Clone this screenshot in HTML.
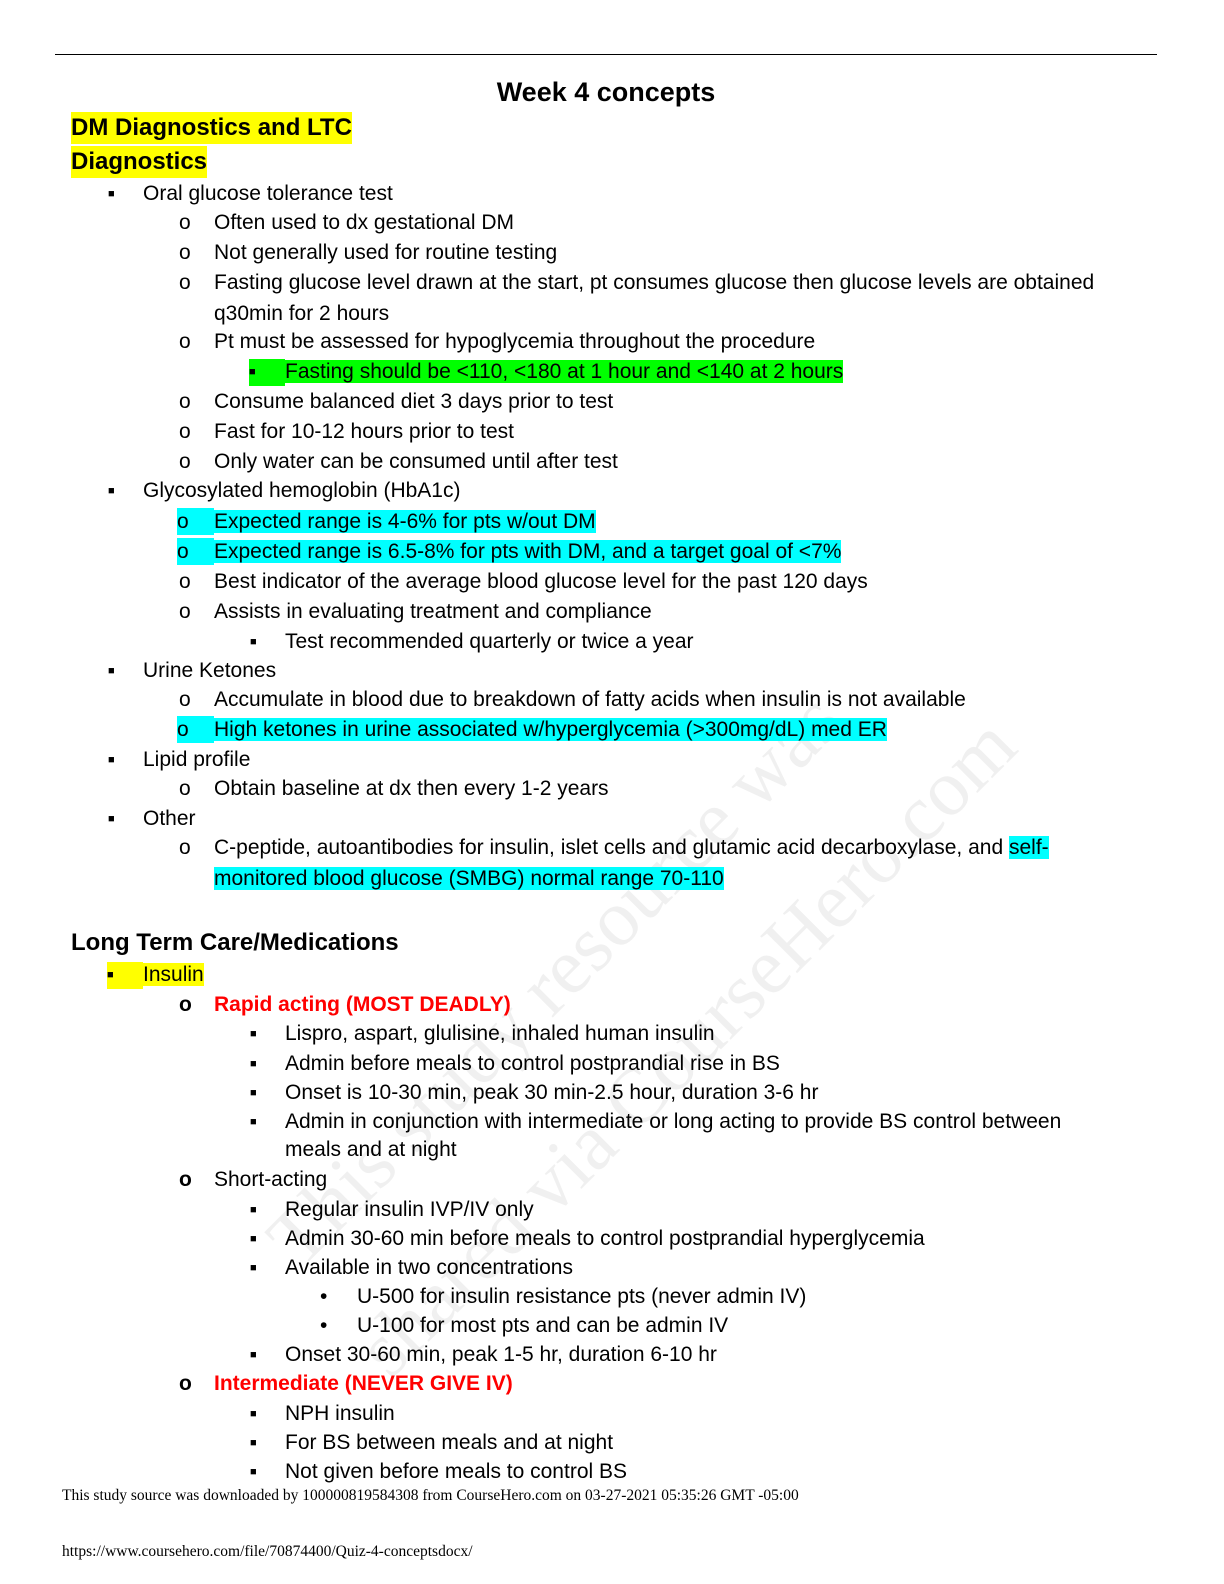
<!DOCTYPE html>
<html><head><meta charset="utf-8"><style>
body{margin:0;background:#fff;}
#p{position:relative;width:1224px;height:1584px;overflow:hidden;background:#fff;font-family:"Liberation Sans",sans-serif;color:#000;}
.l{position:absolute;font-size:21px;line-height:27px;white-space:nowrap;}
.b{display:inline-block;}
.h{background:#00ffff;}
.g{background:#00ff00;}
.y{background:#ffff00;}
.r{color:#ff0000;font-weight:bold;}
.sq{font-size:11px;vertical-align:3px;}
.hd{position:absolute;font-weight:bold;font-size:24px;line-height:32px;white-space:nowrap;}
.wm{position:absolute;font-family:"Liberation Serif",serif;font-size:80px;color:rgba(0,0,0,0.06);white-space:nowrap;transform-origin:0 0;transform:rotate(-45deg);}
.ft{position:absolute;font-family:"Liberation Serif",serif;font-size:15.5px;white-space:nowrap;}
</style></head><body><div id="p">
<div style="position:absolute;left:55px;top:54px;width:1102px;height:1px;background:#000"></div>
<div class="hd" style="left:0;width:1212px;text-align:center;top:76px;font-size:27px">Week 4 concepts</div>
<div class="hd y" style="left:71px;top:112px">DM Diagnostics and LTC</div>
<div class="hd y" style="left:71px;top:146px">Diagnostics</div>

<div class="wm" style="left:250px;top:1220px">This study resource was</div>
<div class="wm" style="left:340px;top:1330px">shared via CourseHero.com</div>

<div class="l" style="left:108px;top:180px"><span class="b sq" style="width:35px">■</span>Oral glucose tolerance test</div>
<div class="l" style="left:179px;top:209px"><span class="b" style="width:35px">o</span>Often used to dx gestational DM</div>
<div class="l" style="left:179px;top:239px"><span class="b" style="width:35px">o</span>Not generally used for routine testing</div>
<div class="l" style="left:179px;top:269px"><span class="b" style="width:35px">o</span>Fasting glucose level drawn at the start, pt consumes glucose then glucose levels are obtained</div>
<div class="l" style="left:214px;top:300px">q30min for 2 hours</div>
<div class="l" style="left:179px;top:328px"><span class="b" style="width:35px">o</span>Pt must be assessed for hypoglycemia throughout the procedure</div>
<div class="l" style="left:249px;top:358px"><span class="b sq g" style="width:36px;">■</span><span class="g">Fasting should be &lt;110, &lt;180 at 1 hour and &lt;140 at 2 hours</span></div>
<div class="l" style="left:179px;top:388px"><span class="b" style="width:35px">o</span>Consume balanced diet 3 days prior to test</div>
<div class="l" style="left:179px;top:418px"><span class="b" style="width:35px">o</span>Fast for 10-12 hours prior to test</div>
<div class="l" style="left:179px;top:448px"><span class="b" style="width:35px">o</span>Only water can be consumed until after test</div>
<div class="l" style="left:108px;top:477px"><span class="b sq" style="width:35px">■</span>Glycosylated hemoglobin (HbA1c)</div>
<div class="l" style="left:177px;top:508px"><span class="b h" style="width:37px">o</span><span class="h">Expected range is 4-6% for pts w/out DM</span></div>
<div class="l" style="left:177px;top:538px"><span class="b h" style="width:37px">o</span><span class="h">Expected range is 6.5-8% for pts with DM, and a target goal of &lt;7%</span></div>
<div class="l" style="left:179px;top:568px"><span class="b" style="width:35px">o</span>Best indicator of the average blood glucose level for the past 120 days</div>
<div class="l" style="left:179px;top:598px"><span class="b" style="width:35px">o</span>Assists in evaluating treatment and compliance</div>
<div class="l" style="left:250px;top:628px"><span class="b sq" style="width:35px">■</span>Test recommended quarterly or twice a year</div>
<div class="l" style="left:108px;top:657px"><span class="b sq" style="width:35px">■</span>Urine Ketones</div>
<div class="l" style="left:179px;top:686px"><span class="b" style="width:35px">o</span>Accumulate in blood due to breakdown of fatty acids when insulin is not available</div>
<div class="l" style="left:177px;top:716px"><span class="b h" style="width:37px">o</span><span class="h">High ketones in urine associated w/hyperglycemia (&gt;300mg/dL) med ER</span></div>
<div class="l" style="left:108px;top:746px"><span class="b sq" style="width:35px">■</span>Lipid profile</div>
<div class="l" style="left:179px;top:775px"><span class="b" style="width:35px">o</span>Obtain baseline at dx then every 1-2 years</div>
<div class="l" style="left:108px;top:805px"><span class="b sq" style="width:35px">■</span>Other</div>
<div class="l" style="left:179px;top:834px"><span class="b" style="width:35px">o</span>C-peptide, autoantibodies for insulin, islet cells and glutamic acid decarboxylase, and <span class="h">self-</span></div>
<div class="l" style="left:214px;top:865px"><span class="h">monitored blood glucose (SMBG) normal range 70-110</span></div>

<div class="hd" style="left:71px;top:927px">Long Term Care/Medications</div>
<div class="l" style="left:107px;top:961px"><span class="b sq y" style="width:36px">■</span><span class="y">Insulin</span></div>
<div class="l" style="left:179px;top:991px"><span class="b" style="width:35px;font-weight:bold">o</span><span class="r">Rapid acting (MOST DEADLY)</span></div>
<div class="l" style="left:250px;top:1020px"><span class="b sq" style="width:35px">■</span>Lispro, aspart, glulisine, inhaled human insulin</div>
<div class="l" style="left:250px;top:1050px"><span class="b sq" style="width:35px">■</span>Admin before meals to control postprandial rise in BS</div>
<div class="l" style="left:250px;top:1079px"><span class="b sq" style="width:35px">■</span>Onset is 10-30 min, peak 30 min-2.5 hour, duration 3-6 hr</div>
<div class="l" style="left:250px;top:1108px"><span class="b sq" style="width:35px">■</span>Admin in conjunction with intermediate or long acting to provide BS control between</div>
<div class="l" style="left:285px;top:1136px">meals and at night</div>
<div class="l" style="left:179px;top:1166px"><span class="b" style="width:35px;font-weight:bold">o</span>Short-acting</div>
<div class="l" style="left:250px;top:1196px"><span class="b sq" style="width:35px">■</span>Regular insulin IVP/IV only</div>
<div class="l" style="left:250px;top:1225px"><span class="b sq" style="width:35px">■</span>Admin 30-60 min before meals to control postprandial hyperglycemia</div>
<div class="l" style="left:250px;top:1254px"><span class="b sq" style="width:35px">■</span>Available in two concentrations</div>
<div class="l" style="left:320px;top:1283px"><span class="b" style="width:37px">•</span>U-500 for insulin resistance pts (never admin IV)</div>
<div class="l" style="left:320px;top:1312px"><span class="b" style="width:37px">•</span>U-100 for most pts and can be admin IV</div>
<div class="l" style="left:250px;top:1341px"><span class="b sq" style="width:35px">■</span>Onset 30-60 min, peak 1-5 hr, duration 6-10 hr</div>
<div class="l" style="left:179px;top:1370px"><span class="b" style="width:35px;font-weight:bold">o</span><span class="r">Intermediate (NEVER GIVE IV)</span></div>
<div class="l" style="left:250px;top:1400px"><span class="b sq" style="width:35px">■</span>NPH insulin</div>
<div class="l" style="left:250px;top:1429px"><span class="b sq" style="width:35px">■</span>For BS between meals and at night</div>
<div class="l" style="left:250px;top:1458px"><span class="b sq" style="width:35px">■</span>Not given before meals to control BS</div>

<div class="ft" style="left:62px;top:1487px">This study source was downloaded by 100000819584308 from CourseHero.com on 03-27-2021 05:35:26 GMT -05:00</div>
<div class="ft" style="left:62px;top:1543px">https://www.coursehero.com/file/70874400/Quiz-4-conceptsdocx/</div>
</div></body></html>
